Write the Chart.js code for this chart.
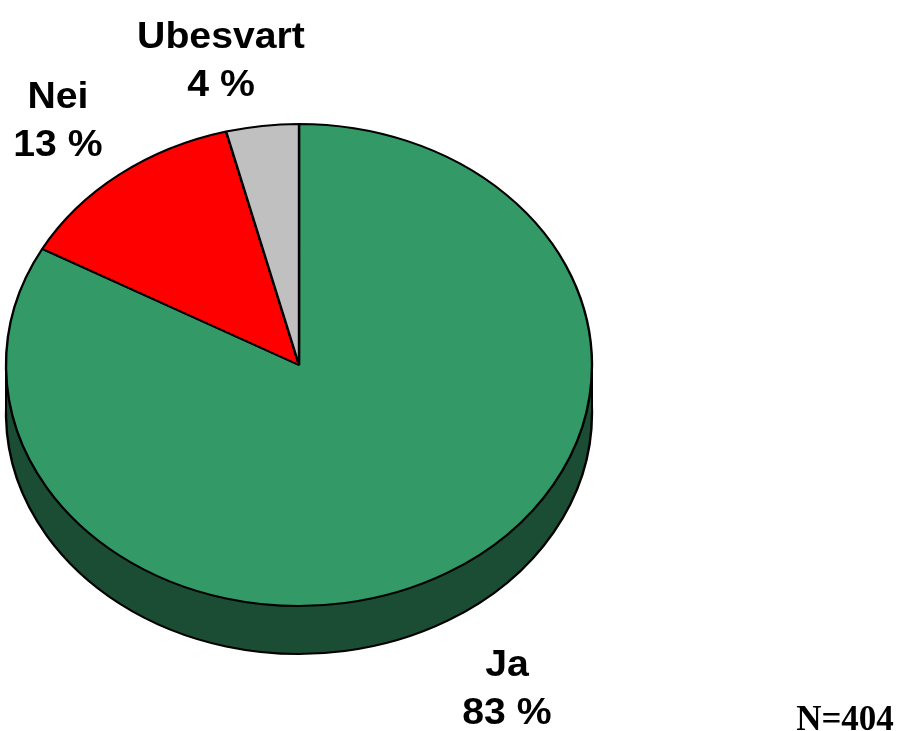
<!DOCTYPE html>
<html><head><meta charset="utf-8">
<script src="https://cdn.jsdelivr.net/npm/chart.js@4"></script>
<style>html,body{margin:0;padding:0;background:#fff;} #wrap{width:900px;height:731px;position:relative;}</style>
</head><body><div id="wrap"><canvas id="c"></canvas></div>
<script>
const categories = ['Ja', 'Nei', 'Ubesvart'];
const values = [83, 13, 4];
const colors = ['#339966', '#ff0000', '#c0c0c0'];
const sideColors = ['#1a4d33', '#800000', '#606060'];
const noteText = 'N=404';

// layout (not data)
const tilt = 241 / 293;
const depth = 48;
const labelPos = [{x: 507, y: 665}, {x: 58, y: 97}, {x: 221, y: 37}];
const lineGap = 48;

function drawLayer(ctx, meta, cx, cy, d, fillFn, bw, bcFn) {
  ctx.save();
  ctx.translate(cx, cy + d);
  ctx.scale(1, tilt);
  ctx.translate(-cx, -cy);
  meta.data.forEach((arc, i) => {
    const o = arc.options;
    const no = Object.create(o);
    no.backgroundColor = fillFn(i);
    no.borderColor = bcFn(i);
    no.borderWidth = bw;
    arc.options = no;
    arc.draw(ctx);
    arc.options = o;
  });
  ctx.restore();
}

const tiltPlugin = {
  id: 'tilt',
  beforeDatasetsDraw(chart) {
    const ctx = chart.ctx;
    const meta = chart.getDatasetMeta(0);
    const cx = meta.data[0].x, cy = meta.data[0].y;
    const r = meta.data[0].outerRadius;
    ctx.save();
    // bottom face of the extruded pie
    drawLayer(ctx, meta, cx, cy, depth, i => sideColors[i], 2.4, () => '#000');
    // vertical wall between top and bottom face
    const li = meta.data.findIndex(a => a.inRange(cx - r / 2, cy));
    const ri = meta.data.findIndex(a => a.inRange(cx + r / 2, cy));
    ctx.fillStyle = sideColors[li];
    ctx.fillRect(cx - r, cy, li === ri ? 2 * r : r, depth);
    if (li !== ri) { ctx.fillStyle = sideColors[ri]; ctx.fillRect(cx, cy, r, depth); }
    ctx.strokeStyle = '#000';
    ctx.lineWidth = 2;
    ctx.beginPath();
    ctx.moveTo(cx - r, cy); ctx.lineTo(cx - r, cy + depth);
    ctx.moveTo(cx + r, cy); ctx.lineTo(cx + r, cy + depth);
    ctx.stroke();
    // top face transform
    ctx.translate(0, cy);
    ctx.scale(1, tilt);
    ctx.translate(0, -cy);
  },
  afterDatasetsDraw(chart) {
    chart.ctx.restore();
  }
};

const labelPlugin = {
  id: 'labels',
  afterDraw(chart) {
    const ctx = chart.ctx;
    ctx.save();
    ctx.fillStyle = '#000';
    ctx.textAlign = 'center';
    ctx.textBaseline = 'middle';
    ctx.font = 'bold 37px "Liberation Sans", Arial, sans-serif';
    categories.forEach((c, i) => {
      const p = labelPos[i];
      ctx.save();
      ctx.translate(p.x, p.y + 1);
      ctx.scale(1.06, 1);
      ctx.fillText(c, 0, 0);
      ctx.fillText(values[i] + ' %', 0, lineGap);
      ctx.restore();
    });
    ctx.font = 'bold 35px "Liberation Serif", "Times New Roman", serif';
    ctx.textBaseline = 'alphabetic';
    ctx.fillText(noteText, 845, 730);
    ctx.restore();
  }
};

new Chart(document.getElementById('c'), {
  type: 'pie',
  data: {
    labels: categories,
    datasets: [{
      data: values,
      backgroundColor: colors,
      borderColor: '#000',
      borderWidth: 2.4,
      radius: 293,
      clip: false,
      hoverOffset: 0
    }]
  },
  options: {
    responsive: true,
    maintainAspectRatio: false,
    animation: false,
    events: [],
    layout: {padding: {left: 0, right: 302, top: 0, bottom: 1}},
    plugins: {legend: {display: false}, tooltip: {enabled: false}}
  },
  plugins: [tiltPlugin, labelPlugin]
});
</script>
</body></html>
